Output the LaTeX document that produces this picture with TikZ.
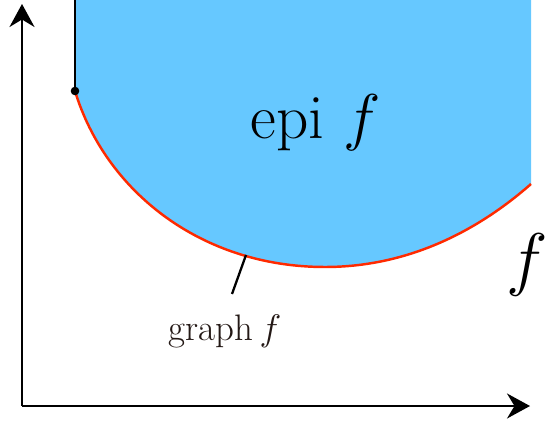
\RequirePackage{fix-cm}
\documentclass[tikz,border=0pt]{standalone}
\usepackage{amsmath,amssymb}
\usepackage{tikz}
\usetikzlibrary{positioning,arrows.meta}
\definecolor{epiblue}{RGB}{102,200,255}
\definecolor{graphred}{RGB}{255,42,0}
\definecolor{inkblack}{RGB}{35,24,21}

\begin{document}
\begin{tikzpicture}[x=0.02cm, y=-0.02cm,
  axis/.style={-{Stealth[length=4.6mm, width=5mm, inset=1.5mm]}, draw=black, line width=1.4pt},
  graphline/.style={draw=graphred, line width=1.4pt},
  lead/.style={draw=black, line width=1.3pt},
  biglabel/.style={inner sep=0pt, font=\fontsize{36}{42}\selectfont},
  smalllabel/.style={inner sep=0pt, text=inkblack, font=\fontsize{21}{25}\selectfont}]
\useasboundingbox (0,0) rectangle (546,421);
% epigraph region
\fill[epiblue] (75,0) -- (75,91) .. controls (105,190) and (200,267) .. (325,267)
  .. controls (420,267) and (490,220) .. (531,184) -- (531,0) -- cycle;
\draw[graphline] (75,91) .. controls (105,190) and (200,267) .. (325,267)
  .. controls (420,267) and (490,220) .. (531,184);
\draw[lead] (75,0) -- (75,91);
\fill (75,91) circle (4.3);
% axes
\coordinate (o) at (22,406);
\coordinate (ytip) at (22,4);
\coordinate (xtip) at (530,406);
\draw[axis] (o) -- (ytip);
\draw[axis] (o) -- (xtip);
% labels
\node[biglabel] (epi) at (316,123) {epi $f$};
\node[biglabel, font=\fontsize{40}{46}\selectfont] (fname) at (527,265) {$f$};
\node[smalllabel] (graph) at (225,331) {graph\,$f$};
\coordinate (gpt) at (246,255);
\coordinate (gend) at (232,294);
\draw[lead] (gend) -- (gpt);
\end{tikzpicture}
\end{document}
